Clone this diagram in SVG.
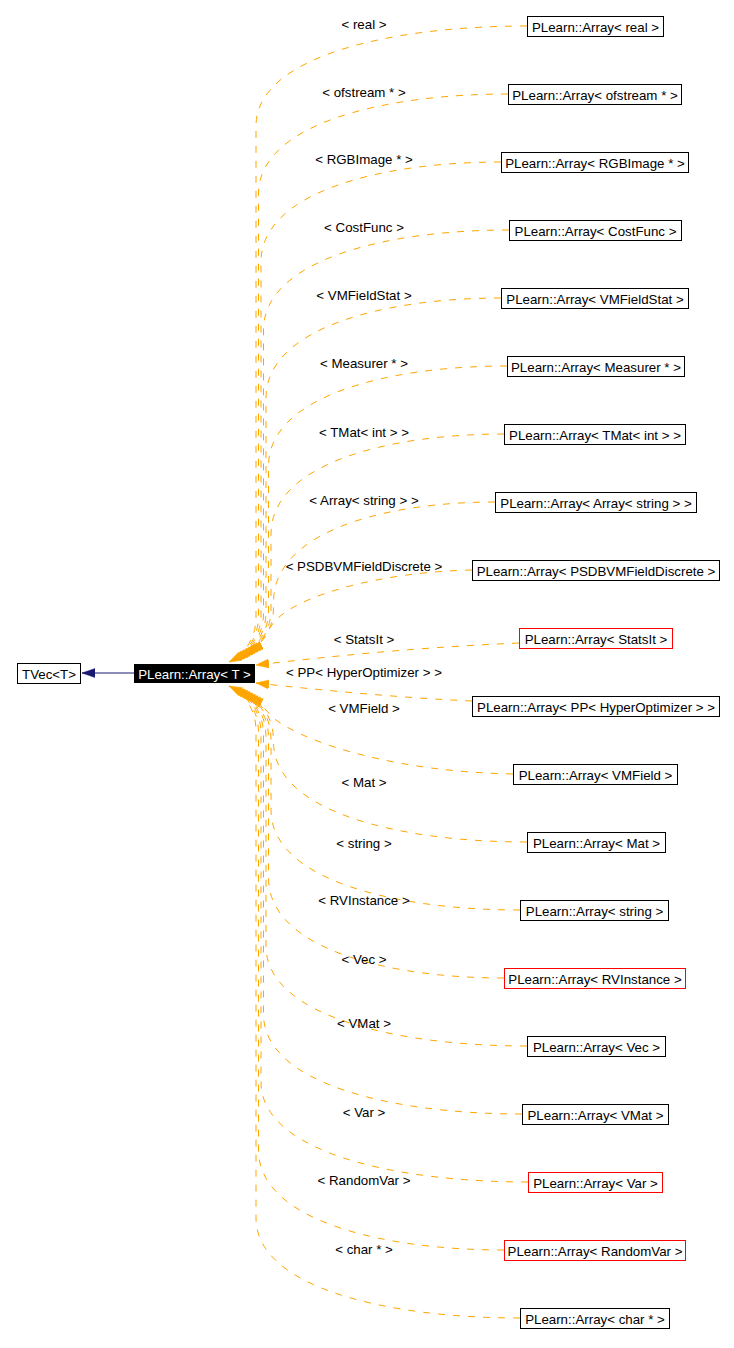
<svg xmlns="http://www.w3.org/2000/svg" width="734" height="1348" viewBox="0 0 734 1348">
<style>
text{font-family:"Liberation Sans",Arial,sans-serif;font-size:13.3px;fill:#000}
.n rect{fill:#fff;stroke:#000;stroke-width:1}
.n.r rect{stroke:#f00}
.n text{text-anchor:middle}
.lbl{text-anchor:middle}
.e{fill:none;stroke:#ffa500;stroke-width:1;stroke-dasharray:7,8;marker-end:url(#ao)}
</style>
<defs>
<marker id="ao" markerUnits="userSpaceOnUse" markerWidth="14" markerHeight="10" refX="13" refY="4.5" orient="auto">
<path d="M0,0 L13,4.5 L0,9 z" fill="#ffa500" stroke="#ffa500" stroke-width="0.5"/>
</marker>
<marker id="ab" markerUnits="userSpaceOnUse" markerWidth="14" markerHeight="10" refX="13" refY="4.5" orient="auto">
<path d="M0,0 L13,4.5 L0,9 z" fill="#191970" stroke="#191970" stroke-width="0.5"/>
</marker>
</defs>
<rect width="734" height="1348" fill="#fff"/>
<g id="connectors">
<path d="M134,673 L82,673" fill="none" stroke="#191970" stroke-width="1" marker-end="url(#ab)"/>
<path class="e" d="M527,26 C391.5,26 256,56 256,126 L256,617 C256,642 241,656 229,662"/>
<path class="e" d="M508,94 C383,94 258.5,124 258.5,194 L258.5,615.6 C258.5,640.6 243.6,654.6 231.6,660.6"/>
<path class="e" d="M501,162 C381,162 261,192 261,262 L261,614.25 C261,639.25 246.25,653.25 234.25,659.25"/>
<path class="e" d="M509,230 C386,230 263.5,260 263.5,330 L263.5,612.9 C263.5,637.9 248.9,651.9 236.9,657.9"/>
<path class="e" d="M501,298 C383.5,298 266,328 266,398 L266,611.5 C266,636.5 251.5,650.5 239.5,656.5"/>
<path class="e" d="M507,366 C388,366 268.5,396 268.5,466 L268.5,610.1 C268.5,635.1 254.1,649.1 242.1,655.1"/>
<path class="e" d="M504,434 C387.5,434 271,464 271,534 L271,608.75 C271,633.75 256.75,647.75 244.75,653.75"/>
<path class="e" d="M495,502 C384,502 273.5,532 273.5,602 L273.5,607.4 C273.5,632.4 259.4,646.4 247.4,652.4"/>
<path class="e" d="M472,570 C380,572 300,595 276,620 C268,628 262,645 250,651"/>
<path class="e" d="M519,643 C400,648 300,660 256,665"/>
<path class="e" d="M472,701 C400,698 300,688 256,683"/>
<path class="e" d="M513,774 C400,772 310,745 276,720 C268,714 262,703 250,697"/>
<path class="e" d="M527,842 C400,842 273.5,812 273.5,742 L273.5,740.6 C273.5,715.6 259.4,701.6 247.4,695.6"/>
<path class="e" d="M520,910 C395.5,910 271,880 271,810 L271,739.25 C271,714.25 256.75,700.25 244.75,694.25"/>
<path class="e" d="M504,978 C386,978 268.5,948 268.5,878 L268.5,737.9 C268.5,712.9 254.1,698.9 242.1,692.9"/>
<path class="e" d="M527,1046 C396.5,1046 266,1016 266,946 L266,736.5 C266,711.5 251.5,697.5 239.5,691.5"/>
<path class="e" d="M522,1114 C393,1114 263.5,1084 263.5,1014 L263.5,735.1 C263.5,710.1 248.9,696.1 236.9,690.1"/>
<path class="e" d="M528,1182 C394.5,1182 261,1152 261,1082 L261,733.75 C261,708.75 246.25,694.75 234.25,688.75"/>
<path class="e" d="M504,1250 C381,1250 258.5,1220 258.5,1150 L258.5,732.4 C258.5,707.4 243.6,693.4 231.6,687.4"/>
<path class="e" d="M520,1318 C388,1318 256,1288 256,1218 L256,731 C256,706 241,692 229,686"/>
</g>
<g id="labels">
<text class="lbl" x="364" y="28.5">&lt; real &gt;</text>
<text class="lbl" x="364" y="96.5">&lt; ofstream * &gt;</text>
<text class="lbl" x="364" y="164">&lt; RGBImage * &gt;</text>
<text class="lbl" x="364" y="232">&lt; CostFunc &gt;</text>
<text class="lbl" x="364" y="299.5">&lt; VMFieldStat &gt;</text>
<text class="lbl" x="364" y="368">&lt; Measurer * &gt;</text>
<text class="lbl" x="364" y="437">&lt; TMat&lt; int &gt; &gt;</text>
<text class="lbl" x="364" y="504.5">&lt; Array&lt; string &gt; &gt;</text>
<text class="lbl" x="364" y="570.5">&lt; PSDBVMFieldDiscrete &gt;</text>
<text class="lbl" x="364" y="643.5">&lt; StatsIt &gt;</text>
<text class="lbl" x="364" y="677">&lt; PP&lt; HyperOptimizer &gt; &gt;</text>
<text class="lbl" x="364" y="713">&lt; VMField &gt;</text>
<text class="lbl" x="364" y="786.5">&lt; Mat &gt;</text>
<text class="lbl" x="364" y="847.5">&lt; string &gt;</text>
<text class="lbl" x="364" y="904.5">&lt; RVInstance &gt;</text>
<text class="lbl" x="364" y="963.5">&lt; Vec &gt;</text>
<text class="lbl" x="364" y="1028">&lt; VMat &gt;</text>
<text class="lbl" x="364" y="1117">&lt; Var &gt;</text>
<text class="lbl" x="364" y="1185">&lt; RandomVar &gt;</text>
<text class="lbl" x="364" y="1253.5">&lt; char * &gt;</text>
</g>
<g id="node-tvec" class="n"><rect x="17.5" y="663.5" width="63" height="20"/><text x="49" y="678.5">TVec&lt;T&gt;</text></g>
<g id="node-array-t"><rect x="134" y="664" width="121" height="19" fill="#000"/><text x="194.5" y="678.5" fill="#fff" style="fill:#fff;text-anchor:middle">PLearn::Array&lt; T &gt;</text></g>
<g id="node-real" class="n"><rect x="527.5" y="16.5" width="136" height="20"/><text x="595.5" y="31.5">PLearn::Array&lt; real &gt;</text></g>
<g id="node-ofstream" class="n"><rect x="508.5" y="84.5" width="173" height="20"/><text x="595" y="99.5">PLearn::Array&lt; ofstream * &gt;</text></g>
<g id="node-rgbimage" class="n"><rect x="501.5" y="152.5" width="187" height="20"/><text x="595" y="167.5">PLearn::Array&lt; RGBImage * &gt;</text></g>
<g id="node-costfunc" class="n"><rect x="509.5" y="220.5" width="172" height="20"/><text x="595.5" y="235.5">PLearn::Array&lt; CostFunc &gt;</text></g>
<g id="node-vmfieldstat" class="n"><rect x="501.5" y="288.5" width="187" height="20"/><text x="595" y="303.5">PLearn::Array&lt; VMFieldStat &gt;</text></g>
<g id="node-measurer" class="n"><rect x="507.5" y="356.5" width="177" height="20"/><text x="596" y="371.5">PLearn::Array&lt; Measurer * &gt;</text></g>
<g id="node-tmat" class="n"><rect x="504.5" y="424.5" width="181" height="20"/><text x="595" y="439.5">PLearn::Array&lt; TMat&lt; int &gt; &gt;</text></g>
<g id="node-arraystring" class="n"><rect x="495.5" y="492.5" width="201" height="20"/><text x="596" y="507.5">PLearn::Array&lt; Array&lt; string &gt; &gt;</text></g>
<g id="node-psdb" class="n"><rect x="472.5" y="560.5" width="247" height="20"/><text x="596" y="575.5">PLearn::Array&lt; PSDBVMFieldDiscrete &gt;</text></g>
<g id="node-statsit" class="n r"><rect x="519.5" y="628.5" width="153" height="20"/><text x="596" y="643.5">PLearn::Array&lt; StatsIt &gt;</text></g>
<g id="node-pp" class="n"><rect x="472.5" y="696.5" width="247" height="20"/><text x="596" y="711.5">PLearn::Array&lt; PP&lt; HyperOptimizer &gt; &gt;</text></g>
<g id="node-vmfield" class="n"><rect x="513.5" y="764.5" width="164" height="20"/><text x="595.5" y="779.5">PLearn::Array&lt; VMField &gt;</text></g>
<g id="node-mat" class="n"><rect x="527.5" y="832.5" width="138" height="20"/><text x="596.5" y="847.5">PLearn::Array&lt; Mat &gt;</text></g>
<g id="node-string" class="n"><rect x="520.5" y="900.5" width="148" height="20"/><text x="594.5" y="915.5">PLearn::Array&lt; string &gt;</text></g>
<g id="node-rvinstance" class="n r"><rect x="504.5" y="968.5" width="181" height="20"/><text x="595" y="983.5">PLearn::Array&lt; RVInstance &gt;</text></g>
<g id="node-vec" class="n"><rect x="527.5" y="1036.5" width="138" height="20"/><text x="596.5" y="1051.5">PLearn::Array&lt; Vec &gt;</text></g>
<g id="node-vmat" class="n"><rect x="522.5" y="1104.5" width="146" height="20"/><text x="595.5" y="1119.5">PLearn::Array&lt; VMat &gt;</text></g>
<g id="node-var" class="n r"><rect x="528.5" y="1172.5" width="134" height="20"/><text x="595.5" y="1187.5">PLearn::Array&lt; Var &gt;</text></g>
<g id="node-randomvar" class="n r"><rect x="504.5" y="1240.5" width="181" height="20"/><text x="595" y="1255.5">PLearn::Array&lt; RandomVar &gt;</text></g>
<g id="node-char" class="n"><rect x="520.5" y="1308.5" width="149" height="20"/><text x="595" y="1323.5">PLearn::Array&lt; char * &gt;</text></g>
</svg>
